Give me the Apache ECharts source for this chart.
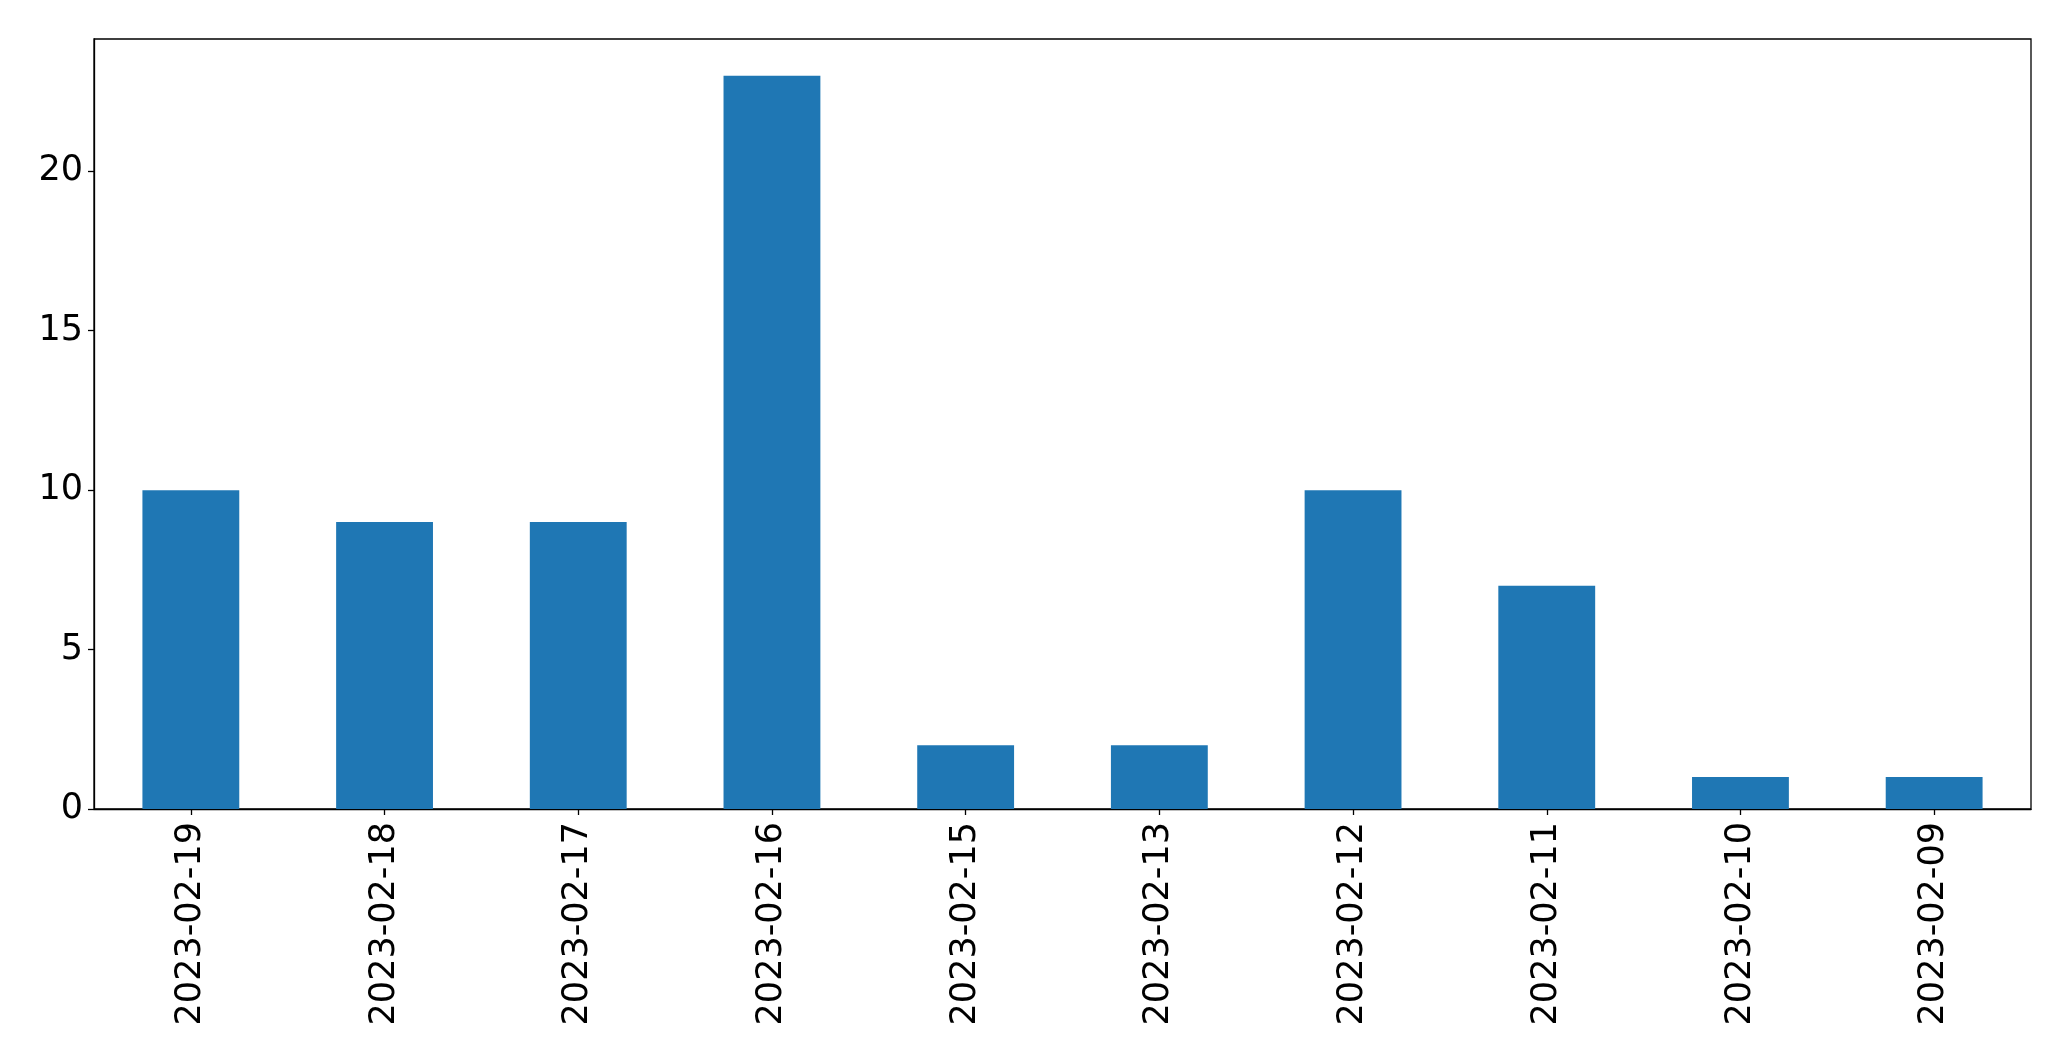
<!DOCTYPE html>
<html>
<head>
<meta charset="utf-8">
<script src="https://cdn.jsdelivr.net/npm/echarts@6/dist/echarts.min.js"></script>
<style>
  html, body { margin: 0; padding: 0; background: #fff; }
  #myChart { width: 2071px; height: 1061px; }
</style>
</head>
<body>
<div id="myChart"></div>
<script>
  // dates and counts
  var dates = ['2023-02-19', '2023-02-18', '2023-02-17', '2023-02-16', '2023-02-15',
               '2023-02-13', '2023-02-12', '2023-02-11', '2023-02-10', '2023-02-09'];
  var counts = [10, 9, 9, 23, 2, 2, 10, 7, 1, 1];
  var yTicks = [0, 5, 10, 15, 20];

  var fontFamily = 'DejaVu Sans';

  var myChart = echarts.init(document.getElementById('myChart'));
  var option = {
    backgroundColor: '#fff',
    animation: false,
    grid: {
      left: 94,
      top: 39,
      right: 40,
      bottom: 252,
      show: true,
      borderColor: '#000',
      borderWidth: 1.3,
      containLabel: false
    },
    xAxis: {
      type: 'category',
      data: dates,
      boundaryGap: true,
      axisLine: { show: true, lineStyle: { color: '#000', width: 1.3 } },
      axisTick: { show: true, alignWithLabel: true, length: 6, lineStyle: { color: '#000', width: 1.3 } },
      axisLabel: {
        rotate: 90,
        margin: 13,
        color: '#000',
        fontFamily: fontFamily,
        fontSize: 35
      },
      splitLine: { show: false }
    },
    yAxis: {
      type: 'value',
      min: 0,
      max: 24.15,
      interval: 5,
      axisLine: { show: true, lineStyle: { color: '#000', width: 1.3 } },
      axisTick: { show: true, length: 6, lineStyle: { color: '#000', width: 1.3 } },
      axisLabel: {
        margin: 11,
        color: '#000',
        fontFamily: fontFamily,
        fontSize: 35,
        showMaxLabel: false,
        formatter: function (v) {
          return yTicks.indexOf(v) >= 0 ? String(v) : '';
        }
      },
      splitLine: { show: false }
    },
    series: [
      {
        type: 'bar',
        data: counts,
        barWidth: '50%',
        itemStyle: { color: '#1f77b4' }
      }
    ]
  };
  myChart.setOption(option);
</script>
</body>
</html>
